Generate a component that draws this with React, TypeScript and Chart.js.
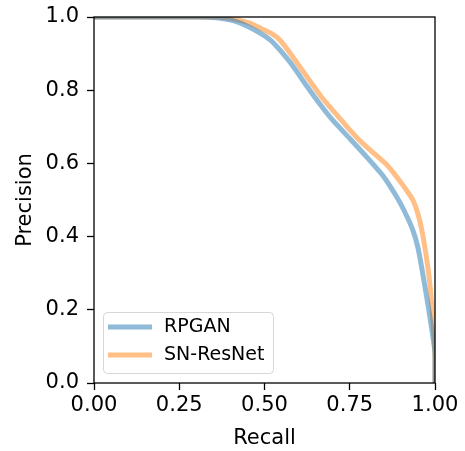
import React, { useEffect, useRef } from "react";
import { Chart, registerables } from "chart.js";

Chart.register(...registerables);

const seriesLabels = ["RPGAN", "SN-ResNet"];

const recallRPGAN = [0, 0.3, 0.36, 0.408, 0.45, 0.487, 0.52, 0.545, 0.58, 0.625, 0.66, 0.7, 0.75, 0.8, 0.85, 0.888, 0.91, 0.935, 0.95, 0.962, 0.98, 0.994, 1.0, 1.0];
const precisionRPGAN = [1.0, 1.0, 0.998, 0.99, 0.975, 0.956, 0.935, 0.91, 0.87, 0.81, 0.765, 0.718, 0.668, 0.617, 0.563, 0.508, 0.47, 0.418, 0.37, 0.31, 0.21, 0.126, 0.08, 0];

const recallSN = [0, 0.34, 0.39, 0.43, 0.46, 0.487, 0.52, 0.545, 0.58, 0.625, 0.67, 0.72, 0.742, 0.78, 0.82, 0.86, 0.888, 0.91, 0.935, 0.952, 0.965, 0.98, 0.99, 0.997, 1.0, 1.0];
const precisionSN = [1.0, 1.0, 0.998, 0.99, 0.982, 0.97, 0.955, 0.937, 0.895, 0.836, 0.778, 0.724, 0.7, 0.662, 0.628, 0.595, 0.563, 0.535, 0.5, 0.455, 0.4, 0.31, 0.22, 0.126, 0.07, 0];

const xTicks = [0, 0.25, 0.5, 0.75, 1.0];
const yTicks = [0, 0.2, 0.4, 0.6, 0.8, 1.0];

const colors = ["rgba(31,119,180,0.5)", "rgba(255,127,14,0.5)"];
const FONT = "'DejaVu Sans', sans-serif";

const zip = (xs: number[], ys: number[]) => xs.map((x, i) => ({ x, y: ys[i] }));

const framePlugin = {
  id: "frameAndLegend",
  afterDatasetsDraw(chart: any) {
    const { ctx, chartArea: ca } = chart;
    ctx.save();
    ctx.strokeStyle = "#000";
    ctx.lineWidth = 1.3;
    ctx.strokeRect(ca.left, ca.top, ca.right - ca.left, ca.bottom - ca.top);

    const bx = ca.left + 9;
    const by = ca.bottom - 71;
    const bw = 170;
    const bh = 61;
    ctx.beginPath();
    ctx.roundRect(bx + 0.5, by + 0.5, bw, bh, 4);
    ctx.fillStyle = "rgba(255,255,255,0.8)";
    ctx.fill();
    ctx.strokeStyle = "rgba(204,204,204,0.8)";
    ctx.lineWidth = 1;
    ctx.stroke();

    chart.data.datasets.forEach((ds: any, i: number) => {
      const y = by + 15 + i * 28;
      ctx.beginPath();
      ctx.strokeStyle = ds.borderColor;
      ctx.lineWidth = 5;
      ctx.lineCap = "butt";
      ctx.moveTo(bx + 5, y);
      ctx.lineTo(bx + 49, y);
      ctx.stroke();
      ctx.fillStyle = "#000";
      ctx.font = `19px ${FONT}`;
      ctx.textBaseline = "middle";
      ctx.textAlign = "left";
      ctx.fillText(ds.label, bx + 61, y);
    });
    ctx.restore();
  },
};

export default function App() {
  const ref = useRef<HTMLCanvasElement | null>(null);

  useEffect(() => {
    document.body.style.margin = "0";
    const canvas = ref.current;
    if (!canvas) return;
    const chart = new Chart(canvas, {
      type: "line",
      data: {
        datasets: [
          {
            label: seriesLabels[0],
            data: zip(recallRPGAN, precisionRPGAN),
            borderColor: colors[0],
            borderWidth: 5,
            pointRadius: 0,
            tension: 0.2,
            fill: false,
            clip: 0,
          },
          {
            label: seriesLabels[1],
            data: zip(recallSN, precisionSN),
            borderColor: colors[1],
            borderWidth: 5,
            pointRadius: 0,
            tension: 0.2,
            fill: false,
            clip: 0,
          },
        ],
      },
      options: {
        responsive: false,
        animation: false,
        events: [],
        layout: { padding: { top: 17, right: 30, left: 0, bottom: 0 } },
        plugins: { legend: { display: false }, tooltip: { enabled: false } },
        scales: {
          x: {
            type: "linear",
            min: 0,
            max: 1,
            afterBuildTicks: (s: any) => {
              s.ticks = xTicks.map((v) => ({ value: v }));
            },
            afterFit: (s: any) => {
              s.height = 68;
              s.paddingLeft = 0;
              s.paddingRight = 0;
            },
            ticks: {
              color: "#000",
              font: { family: FONT, size: 21 },
              padding: 3,
              maxRotation: 0,
              callback: (v: any) => Number(v).toFixed(2),
            },
            grid: { drawOnChartArea: false, drawTicks: true, tickLength: 7, tickColor: "#000", tickWidth: 1.3 },
            border: { display: false },
            title: { display: true, text: "Recall", color: "#000", font: { family: FONT, size: 21 }, padding: { top: 0, bottom: 0 } },
          },
          y: {
            type: "linear",
            min: 0,
            max: 1,
            afterBuildTicks: (s: any) => {
              s.ticks = yTicks.map((v) => ({ value: v }));
            },
            afterFit: (s: any) => {
              s.width = 94;
              s.paddingTop = 0;
              s.paddingBottom = 0;
            },
            ticks: {
              color: "#000",
              font: { family: FONT, size: 21 },
              padding: 8,
              callback: (v: any) => Number(v).toFixed(1),
            },
            grid: { drawOnChartArea: false, drawTicks: true, tickLength: 7, tickColor: "#000", tickWidth: 1.3 },
            border: { display: false },
            title: { display: true, text: "Precision", color: "#000", font: { family: FONT, size: 21 }, padding: { top: 13, bottom: 0 } },
          },
        },
      },
      plugins: [framePlugin],
    } as any);
    return () => chart.destroy();
  }, []);

  return (
    <div style={{ position: "absolute", left: 0, top: 0, width: 465, height: 451, background: "#fff" }}>
      <canvas ref={ref} width={465} height={451} style={{ display: "block" }} />
    </div>
  );
}
